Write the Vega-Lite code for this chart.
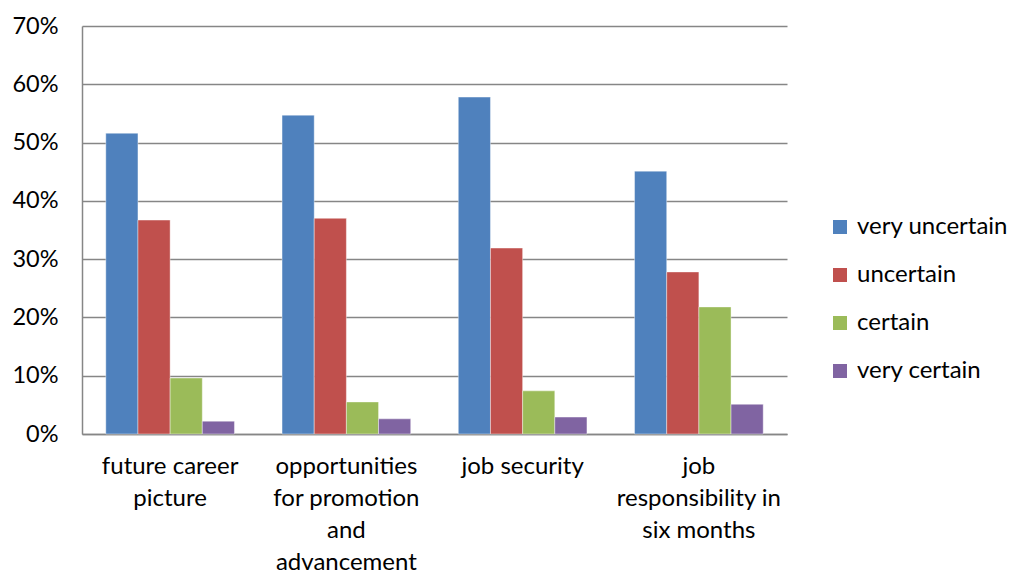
{
  "$schema": "https://vega.github.io/schema/vega-lite/v6.json",
  "width": 705,
  "height": 408,
  "autosize": {"type": "none"},
  "padding": {"left": 82, "top": 26, "right": 222, "bottom": 141},
  "background": "#ffffff",
  "data": {
    "values": [
      {"aspect": "future career picture", "answer": "very uncertain", "share": 0.516},
      {"aspect": "future career picture", "answer": "uncertain", "share": 0.367},
      {"aspect": "future career picture", "answer": "certain", "share": 0.096},
      {"aspect": "future career picture", "answer": "very certain", "share": 0.022},
      {"aspect": "opportunities for promotion and advancement", "answer": "very uncertain", "share": 0.547},
      {"aspect": "opportunities for promotion and advancement", "answer": "uncertain", "share": 0.370},
      {"aspect": "opportunities for promotion and advancement", "answer": "certain", "share": 0.055},
      {"aspect": "opportunities for promotion and advancement", "answer": "very certain", "share": 0.026},
      {"aspect": "job security", "answer": "very uncertain", "share": 0.578},
      {"aspect": "job security", "answer": "uncertain", "share": 0.319},
      {"aspect": "job security", "answer": "certain", "share": 0.074},
      {"aspect": "job security", "answer": "very certain", "share": 0.029},
      {"aspect": "job responsibility in six months", "answer": "very uncertain", "share": 0.451},
      {"aspect": "job responsibility in six months", "answer": "uncertain", "share": 0.278},
      {"aspect": "job responsibility in six months", "answer": "certain", "share": 0.218},
      {"aspect": "job responsibility in six months", "answer": "very certain", "share": 0.051}
    ]
  },
  "mark": {"type": "bar", "stroke": "#ffffff", "strokeOpacity": 0.5, "strokeWidth": 0.8},
  "encoding": {
    "x": {
      "field": "aspect",
      "type": "nominal",
      "sort": null,
      "title": null,
      "scale": {"paddingInner": 0.27, "paddingOuter": 0.135},
      "axis": {
        "labelAngle": 0,
        "labelFont": "Lato",
        "labelFontSize": 24,
        "labelColor": "#000000",
        "labelPadding": 20,
        "labelLineHeight": 32,
        "labelBaseline": "top",
        "ticks": false,
        "domainColor": "#868686",
        "domainWidth": 1.5,
        "labelExpr": "datum.value == 'future career picture' ? ['future career', 'picture'] : datum.value == 'opportunities for promotion and advancement' ? ['opportunities', 'for promotion', 'and', 'advancement'] : datum.value == 'job responsibility in six months' ? ['job', 'responsibility in', 'six months'] : datum.value"
      }
    },
    "xOffset": {
      "field": "answer",
      "type": "nominal",
      "sort": ["very uncertain", "uncertain", "certain", "very certain"]
    },
    "y": {
      "field": "share",
      "type": "quantitative",
      "title": null,
      "scale": {"domain": [0, 0.7]},
      "axis": {
        "values": [0, 0.1, 0.2, 0.3, 0.4, 0.5, 0.6, 0.7],
        "format": ".0%",
        "labelFont": "Lato",
        "labelFontSize": 23.5,
        "labelColor": "#000000",
        "labelPadding": 24,
        "ticks": false,
        "grid": true,
        "gridColor": "#868686",
        "gridWidth": 1.5,
        "domainColor": "#868686",
        "domainWidth": 1.5
      }
    },
    "color": {
      "field": "answer",
      "type": "nominal",
      "sort": ["very uncertain", "uncertain", "certain", "very certain"],
      "scale": {
        "domain": ["very uncertain", "uncertain", "certain", "very certain"],
        "range": ["#4F81BD", "#C0504D", "#9BBB59", "#8064A2"]
      },
      "legend": {
        "title": null,
        "orient": "none",
        "legendX": 746,
        "legendY": 189,
        "padding": 0,
        "symbolType": "square",
        "symbolSize": 196,
        "symbolStrokeWidth": 0,
        "labelFont": "Lato",
        "labelFontSize": 24,
        "labelColor": "#000000",
        "labelOffset": 5,
        "rowPadding": 24
      }
    }
  },
  "config": {"view": {"stroke": null}}
}
